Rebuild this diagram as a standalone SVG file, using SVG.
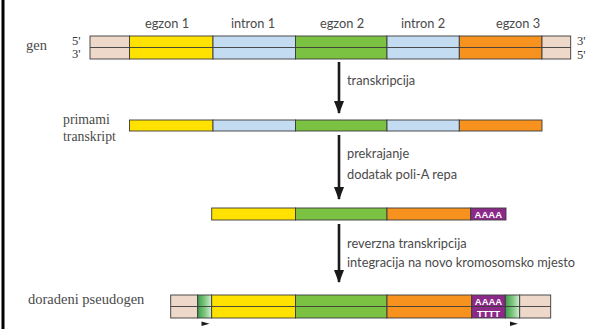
<svg xmlns="http://www.w3.org/2000/svg" width="608" height="329" viewBox="0 0 608 329">
  <style>
    .lbl { font-family: Lato, "Open Sans", sans-serif; font-size: 12.8px; fill: #4a4a4a; }
    .side { font-family: "Liberation Serif", serif; font-size: 14.5px; fill: #4a4a4a; }
    .side2 { font-family: "Liberation Serif", serif; font-size: 13.8px; fill: #4a4a4a; }
    .end { font-family: "Liberation Serif", serif; font-size: 12.5px; fill: #333; }
    .seg { stroke: #3a3a3a; stroke-width: 0.9; }
    .mid { stroke: #3a3a3a; stroke-width: 0.9; fill: none; }
    .flank { fill: #eed8ca; }
    .ex1 { fill: #ffe200; }
    .intr { fill: #c4dcf2; }
    .ex2 { fill: #7cc242; }
    .ex3 { fill: #f7921e; }
    .polya { fill: #8c2a8a; }
    .tail { font-family: "Liberation Sans", sans-serif; font-size: 9.5px; font-weight: bold; fill: #ffffff; }
    .arrow { stroke: #1a1a1a; stroke-width: 2.6; }
  </style>
  <defs>
    <marker id="head" viewBox="0 0 13 10" refX="12" refY="5" markerWidth="5" markerHeight="3.85" orient="auto" markerUnits="strokeWidth">
      <path d="M0,0 L13,5 L0,10 z" fill="#1a1a1a"/>
    </marker>
    <linearGradient id="dup" x1="0" y1="0" x2="1" y2="0">
      <stop offset="0" stop-color="#3f9c4e"/>
      <stop offset="0.5" stop-color="#7cc77d"/>
      <stop offset="1" stop-color="#d8eed6"/>
    </linearGradient>
  </defs>

  <rect width="608" height="329" fill="#ffffff"/>
  <line x1="3" y1="0" x2="3" y2="329" stroke="#000" stroke-width="3"/>

  <!-- segment labels -->
  <g id="labels">
    <text class="lbl" x="167" y="28" text-anchor="middle">egzon 1</text>
    <text class="lbl" x="253" y="28" text-anchor="middle">intron 1</text>
    <text class="lbl" x="342" y="28" text-anchor="middle">egzon 2</text>
    <text class="lbl" x="423" y="28" text-anchor="middle">intron 2</text>
    <text class="lbl" x="518" y="28" text-anchor="middle">egzon 3</text>
  </g>

  <!-- genomic gene (double strand) -->
  <g id="gene">
    <text class="side" x="26" y="50">gen</text>
    <text class="end" x="72" y="45">5'</text>
    <text class="end" x="72" y="58">3'</text>
    <rect class="seg flank" x="90" y="36" width="39.5" height="23"/>
    <rect class="seg ex1" x="129.5" y="36" width="83.5" height="23"/>
    <rect class="seg intr" x="213" y="36" width="82.5" height="23"/>
    <rect class="seg ex2" x="295.5" y="36" width="91.5" height="23"/>
    <rect class="seg intr" x="387" y="36" width="72.3" height="23"/>
    <rect class="seg ex3" x="459.3" y="36" width="82.7" height="23"/>
    <rect class="seg flank" x="542" y="36" width="28.7" height="23"/>
    <line class="mid" x1="90" y1="47.5" x2="570.7" y2="47.5"/>
    <text class="end" x="577" y="45">3'</text>
    <text class="end" x="577" y="59">5'</text>
  </g>

  <!-- primary transcript -->
  <g id="primary-transcript">
    <text class="side2" x="63" y="124">primami</text>
    <text class="side2" x="63" y="140.5">transkript</text>
    <rect class="seg ex1" x="129.5" y="120" width="83.5" height="11"/>
    <rect class="seg intr" x="213" y="120" width="82.5" height="11"/>
    <rect class="seg ex2" x="295.5" y="120" width="91.5" height="11"/>
    <rect class="seg intr" x="387" y="120" width="72.3" height="11"/>
    <rect class="seg ex3" x="459.3" y="120" width="82.7" height="11"/>
  </g>

  <!-- mature mRNA -->
  <g id="mrna">
    <rect class="seg ex1" x="211.7" y="208" width="83.8" height="12"/>
    <rect class="seg ex2" x="295.5" y="208" width="91.5" height="12"/>
    <rect class="seg ex3" x="387" y="208" width="83.7" height="12"/>
    <rect class="seg polya" x="470.7" y="208" width="35.3" height="12"/>
    <text class="tail" x="488.3" y="218" text-anchor="middle">AAAA</text>
  </g>

  <!-- processed pseudogene -->
  <g id="pseudogene">
    <text class="side" x="28" y="304">doradeni pseudogen</text>
    <rect class="seg flank" x="170.7" y="295" width="27" height="23"/>
    <rect class="seg" fill="url(#dup)" x="197.7" y="295" width="14" height="23"/>
    <rect class="seg ex1" x="211.7" y="295" width="83.8" height="23"/>
    <rect class="seg ex2" x="295.5" y="295" width="91.5" height="23"/>
    <rect class="seg ex3" x="387" y="295" width="84.7" height="23"/>
    <rect class="seg polya" x="471.7" y="295" width="33.6" height="23"/>
    <rect class="seg" fill="url(#dup)" x="505.3" y="295" width="14.4" height="23"/>
    <rect class="seg flank" x="519.7" y="295" width="31" height="23"/>
    <line class="mid" x1="170.7" y1="306.5" x2="550.7" y2="306.5"/>
    <text class="tail" x="488.5" y="305" text-anchor="middle">AAAA</text>
    <text class="tail" x="488.5" y="316.5" text-anchor="middle">TTTT</text>
    <path d="M201.5,321.5 L209.5,323.7 L201.5,326 z" fill="#1a1a1a"/>
    <path d="M510,321.5 L518,323.7 L510,326 z" fill="#1a1a1a"/>
  </g>

  <!-- process arrows -->
  <g id="connectors">
    <line class="arrow" x1="339" y1="62" x2="339" y2="113" marker-end="url(#head)"/>
    <text class="lbl" x="347" y="85">transkripcija</text>
    <line class="arrow" x1="339" y1="135" x2="339" y2="199" marker-end="url(#head)"/>
    <text class="lbl" x="347" y="158">prekrajanje</text>
    <text class="lbl" x="347" y="179">dodatak poli-A repa</text>
    <line class="arrow" x1="339" y1="224" x2="339" y2="282" marker-end="url(#head)"/>
    <text class="lbl" x="347" y="248">reverzna transkripcija</text>
    <text class="lbl" x="347" y="267">integracija na novo kromosomsko mjesto</text>
  </g>
</svg>
